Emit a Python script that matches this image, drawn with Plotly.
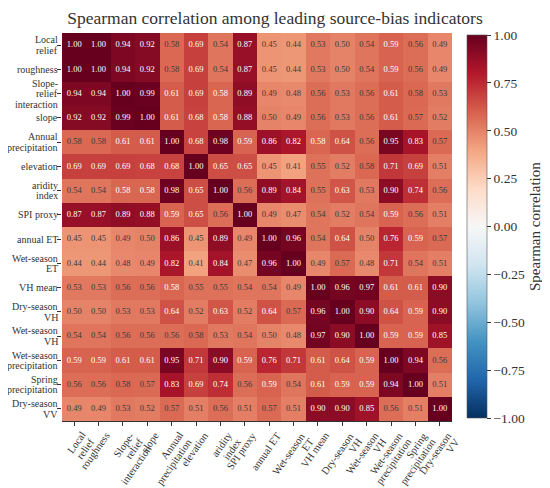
import math
import plotly.graph_objects as go

labels = ["Local\nrelief", "roughness", "Slope-\nrelief\ninteraction", "slope",
          "Annual\nprecipitation", "elevation", "aridity\nindex", "SPI proxy",
          "annual ET", "Wet-season\nET", "VH mean", "Dry-season\nVH",
          "Wet-season\nVH", "Wet-season\nprecipitation", "Spring\nprecipitation",
          "Dry-season\nVV"]

corr = [
    [1.00, 1.00, 0.94, 0.92, 0.576, 0.69, 0.54, 0.87, 0.45, 0.44, 0.53, 0.50, 0.54, 0.59, 0.56, 0.49],
    [1.00, 1.00, 0.94, 0.92, 0.576, 0.69, 0.54, 0.87, 0.45, 0.44, 0.53, 0.50, 0.54, 0.59, 0.56, 0.49],
    [0.94, 0.94, 1.00, 0.99, 0.61, 0.69, 0.584, 0.89, 0.49, 0.48, 0.56, 0.53, 0.56, 0.61, 0.576, 0.53],
    [0.92, 0.92, 0.99, 1.00, 0.61, 0.68, 0.584, 0.88, 0.50, 0.49, 0.56, 0.53, 0.56, 0.61, 0.57, 0.52],
    [0.576, 0.576, 0.61, 0.61, 1.00, 0.68, 0.98, 0.59, 0.86, 0.82, 0.584, 0.64, 0.56, 0.95, 0.83, 0.57],
    [0.69, 0.69, 0.69, 0.68, 0.68, 1.00, 0.65, 0.65, 0.45, 0.41, 0.55, 0.52, 0.576, 0.71, 0.69, 0.51],
    [0.54, 0.54, 0.584, 0.584, 0.98, 0.65, 1.00, 0.56, 0.89, 0.84, 0.55, 0.63, 0.53, 0.90, 0.74, 0.56],
    [0.87, 0.87, 0.89, 0.88, 0.59, 0.65, 0.56, 1.00, 0.49, 0.47, 0.54, 0.52, 0.54, 0.59, 0.56, 0.51],
    [0.45, 0.45, 0.49, 0.50, 0.86, 0.45, 0.89, 0.49, 1.00, 0.96, 0.54, 0.64, 0.50, 0.76, 0.59, 0.57],
    [0.44, 0.44, 0.48, 0.49, 0.82, 0.41, 0.84, 0.47, 0.96, 1.00, 0.49, 0.57, 0.48, 0.71, 0.54, 0.51],
    [0.53, 0.53, 0.56, 0.56, 0.584, 0.55, 0.55, 0.54, 0.54, 0.49, 1.00, 0.96, 0.97, 0.61, 0.61, 0.90],
    [0.50, 0.50, 0.53, 0.53, 0.64, 0.52, 0.63, 0.52, 0.64, 0.57, 0.96, 1.00, 0.90, 0.64, 0.59, 0.90],
    [0.54, 0.54, 0.56, 0.56, 0.56, 0.576, 0.53, 0.54, 0.50, 0.48, 0.97, 0.90, 1.00, 0.59, 0.59, 0.85],
    [0.59, 0.59, 0.61, 0.61, 0.95, 0.71, 0.90, 0.59, 0.76, 0.71, 0.61, 0.64, 0.59, 1.00, 0.94, 0.56],
    [0.56, 0.56, 0.576, 0.57, 0.83, 0.69, 0.74, 0.56, 0.59, 0.54, 0.61, 0.59, 0.59, 0.94, 1.00, 0.51],
    [0.49, 0.49, 0.53, 0.52, 0.57, 0.51, 0.56, 0.51, 0.57, 0.51, 0.90, 0.90, 0.85, 0.56, 0.51, 1.00],
]

cbar_ticks = [-1.0, -0.75, -0.5, -0.25, 0.0, 0.25, 0.5, 0.75, 1.0]

rdbu_r = ["#053061", "#2166ac", "#4393c3", "#92c5de", "#d1e5f0", "#f7f7f7",
          "#fddbc7", "#f4a582", "#d6604d", "#b2182b", "#67001f"]
colorscale = [[i / (len(rdbu_r) - 1), c] for i, c in enumerate(rdbu_r)]

n = len(labels)
idx = list(range(n))
FONT = "Liberation Serif"
TXT = "#333333"
XLAB_FS = 10.5    # x tick label font size
YLAB_FS = 10      # y tick label font size
LINE = 10.5       # tight line spacing (px) of wrapped tick labels
ANG = 55          # x tick label rotation (deg)

xs, ys, txt, cols = [], [], [], []
for i in range(n):
    for j in range(n):
        v = corr[i][j]
        xs.append(j)
        ys.append(i)
        txt.append(f"{v:.2f}")
        cols.append("#ffffff" if v >= 0.58 else "#3a3a3a")

fig = go.Figure()
fig.add_trace(go.Heatmap(
    z=corr, x=idx, y=idx, zmin=-1, zmax=1, colorscale=colorscale,
    hoverinfo="skip",
    colorbar=dict(
        title=dict(text="Spearman correlation", side="right",
                   font=dict(family=FONT, size=15, color=TXT)),
        tickvals=cbar_ticks, ticktext=[f"{t:.2f}".replace("-", "\u2212") for t in cbar_ticks],
        tickfont=dict(family=FONT, size=13.5, color=TXT),
        ticks="outside", ticklen=4, tickcolor=TXT,
        thickness=20, len=0.987, x=1.0385, xanchor="left", y=0.501, yanchor="middle",
        xpad=0, ypad=0,
        outlinewidth=0.6, outlinecolor="#555",
    ),
))
fig.add_trace(go.Scatter(
    x=xs, y=ys, mode="text", text=txt,
    textfont=dict(family=FONT, size=8.5, color=cols),
    hoverinfo="skip", showlegend=False,
))

ca, sa = math.cos(math.radians(ANG)), math.sin(math.radians(ANG))
h_line = 1.15 * XLAB_FS
annotations = []
# x tick labels: one rotated annotation per line, right-aligned with tight spacing
for j, lab in enumerate(labels):
    for k, line in enumerate(lab.split("\n")):
        annotations.append(dict(
            x=j, y=0, xref="x", yref="paper", text=line, showarrow=False,
            textangle=-ANG, xanchor="right", yanchor="top",
            borderpad=0, borderwidth=0,
            xshift=4 + sa * h_line + k * LINE * sa, yshift=-9 - k * LINE * ca,
            font=dict(family=FONT, size=XLAB_FS, color=TXT)))
# y tick labels: one annotation per line, right-aligned, tight spacing
for i, lab in enumerate(labels):
    lines = lab.split("\n")
    m = len(lines)
    for k, line in enumerate(lines):
        annotations.append(dict(
            x=0, y=i, xref="paper", yref="y", text=line, showarrow=False,
            xanchor="right", yanchor="middle", borderpad=0, borderwidth=0,
            xshift=-4, yshift=((m - 1) / 2 - k) * LINE,
            font=dict(family=FONT, size=YLAB_FS, color=TXT)))

# page body has an 8px default margin, so the figure is 8px smaller and margins shifted
fig.update_layout(
    width=542, height=480,
    margin=dict(l=54, r=98, t=25, b=67, autoexpand=False),
    paper_bgcolor="white", plot_bgcolor="white",
    title=dict(text="Spearman correlation among leading source-bias indicators",
               xref="container", x=0.4926, xanchor="center",
               yref="container", y=0.992, yanchor="top",
               font=dict(family=FONT, size=17.5, color=TXT)),
    showlegend=False,
    annotations=annotations,
)
fig.update_xaxes(
    range=[-0.5, n - 0.5], tickvals=idx, showticklabels=False,
    ticks="outside", ticklen=4, tickcolor=TXT,
    showgrid=False, zeroline=False, automargin=False,
    showline=True, linecolor=TXT, linewidth=0.8,
)
fig.update_yaxes(
    range=[n - 0.5, -0.5], tickvals=idx, showticklabels=False,
    ticks="outside", ticklen=4, tickcolor=TXT,
    showgrid=False, zeroline=False, automargin=False,
)

fig.write_html("out.html")
